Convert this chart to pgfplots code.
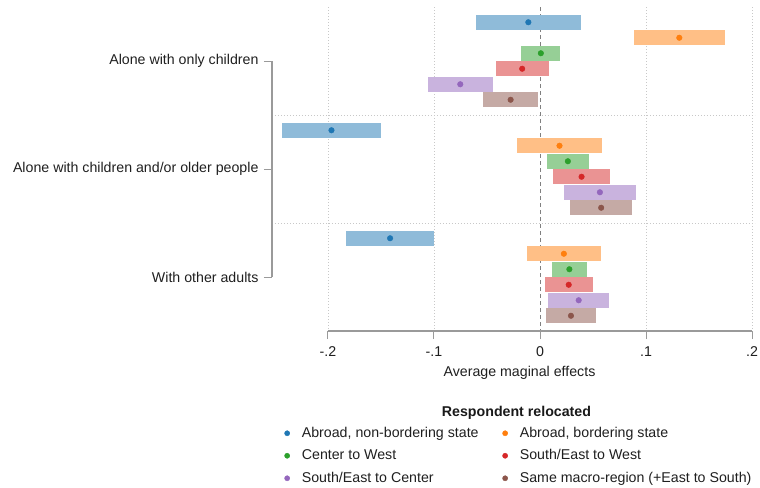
\documentclass[border=0pt]{standalone}
\usepackage{pgfplots}
\pgfplotsset{compat=1.18}
\usepackage{pgfplotstable}
\usepackage{fontspec}
\setmainfont{Liberation Sans}

\definecolor{cA}{HTML}{1F77B4}
\definecolor{cB}{HTML}{FF7F0E}
\definecolor{cC}{HTML}{2CA02C}
\definecolor{cD}{HTML}{D62728}
\definecolor{cE}{HTML}{9467BD}
\definecolor{cF}{HTML}{8C564B}
\definecolor{axgray}{HTML}{9A9A9A}
\definecolor{gridgray}{HTML}{C8C8C8}
\definecolor{zerogray}{HTML}{808080}

% y = group position (1,2,3) plus series offset, x = estimate, e = half-width of the interval
\pgfplotstableread{
y x e
0.6412 -0.0110 0.0494
1.6412 -0.1967 0.0470
2.6412 -0.1414 0.0417
}\tblA
\pgfplotstableread{
y x e
0.7847 0.1314 0.0429
1.7847 0.0184 0.0404
2.7847 0.0225 0.0351
}\tblB
\pgfplotstableread{
y x e
0.9282 0.0008 0.0184
1.9282 0.0263 0.0200
2.9282 0.0277 0.0164
}\tblC
\pgfplotstableread{
y x e
1.0718 -0.0168 0.0250
2.0718 0.0392 0.0269
3.0718 0.0271 0.0227
}\tblD
\pgfplotstableread{
y x e
1.2153 -0.0752 0.0305
2.2153 0.0565 0.0342
3.2153 0.0365 0.0290
}\tblE
\pgfplotstableread{
y x e
1.3588 -0.0277 0.0261
2.3588 0.0577 0.0291
3.3588 0.0292 0.0239
}\tblF

\pgfplotsset{
  ci/.style={only marks, mark=none, forget plot,
    error bars/.cd, x dir=both, x explicit, error mark=none,
    error bar style={line width=15bp, draw=#1!50!white}},
  pt/.style={only marks, mark=*, mark size=2.8bp, color=#1},
}

\begin{document}
\begin{tikzpicture}[font=\fontsize{14.25}{17}\selectfont]
\useasboundingbox (-272bp,-157bp) rectangle (488bp,331bp);
\begin{axis}[
  at={(0,0)}, anchor=south west,
  scale only axis, width=483bp, height=324bp,
  xmin=-0.2528, xmax=0.2028, ymin=0.5, ymax=3.5, y dir=reverse,
  clip=false,
  axis line style={draw=none},
  tick pos=left, tick align=outside,
  major tick length=8bp,
  every tick/.style={draw=axgray, line width=1bp},
  xtick={-0.2,-0.1,0,0.1,0.2}, xticklabels={-.2,-.1,0,.1,.2},
  ytick={1,2,3},
  yticklabels={Alone with only children, Alone with children and/or older people, With other adults},
  tick label style={text=black!88},
  yticklabel style={xshift=-2bp},
  xticklabel style={yshift=-4bp},
  xlabel={Average maginal effects},
  xlabel style={at={(axis description cs:0.5124,-0.1297)}, anchor=center, text=black!88},
  legend columns=2,
  legend cell align=left,
  legend image code/.code={
    \path[draw=none] (0bp,0bp) (19.7bp,0bp);
    \draw[#1, mark size=2.6bp] plot coordinates {(7bp,0bp)};
  },
  legend style={at={(axis description cs:0.0165,-0.288)}, anchor=north west,
    draw=none, fill=none, inner sep=0pt, row sep=5bp,
    nodes={inner sep=2bp, text height=10.5bp, text depth=3bp, text=black!88},
    /tikz/every even column/.append style={column sep=17.5bp}},
]
% grid
\foreach \g in {-0.2,-0.1,0.1,0.2}{
  \edef\tmp{\noexpand\draw[gridgray, line width=0.8bp, dash pattern=on 1bp off 2bp] (axis cs:\g,0.5) -- (axis cs:\g,3.5);}\tmp
}
\draw[gridgray, line width=0.8bp, dash pattern=on 1bp off 2bp] (axis cs:-0.2528,1.5) -- (axis cs:0.2028,1.5);
\draw[gridgray, line width=0.8bp, dash pattern=on 1bp off 2bp] (axis cs:-0.2528,2.5) -- (axis cs:0.2028,2.5);
\draw[zerogray, line width=1bp, dash pattern=on 4bp off 3bp] (axis cs:0,0.5) -- (axis cs:0,3.5);
% axis lines spanning the tick range
\draw[axgray, line width=1.2bp] (axis cs:-0.2,3.5) -- (axis cs:0.2,3.5);
\draw[axgray, line width=1.2bp] (axis cs:-0.2528,1) -- (axis cs:-0.2528,3);

\addplot[ci=cA] table[x=x, y=y, x error=e] {\tblA};
\addplot[pt=cA] table[x=x, y=y] {\tblA};
\addlegendentry{Abroad, non-bordering state}
\addplot[ci=cB] table[x=x, y=y, x error=e] {\tblB};
\addplot[pt=cB] table[x=x, y=y] {\tblB};
\addlegendentry{Abroad, bordering state}
\addplot[ci=cC] table[x=x, y=y, x error=e] {\tblC};
\addplot[pt=cC] table[x=x, y=y] {\tblC};
\addlegendentry{Center to West}
\addplot[ci=cD] table[x=x, y=y, x error=e] {\tblD};
\addplot[pt=cD] table[x=x, y=y] {\tblD};
\addlegendentry{South/East to West}
\addplot[ci=cE] table[x=x, y=y, x error=e] {\tblE};
\addplot[pt=cE] table[x=x, y=y] {\tblE};
\addlegendentry{South/East to Center}
\addplot[ci=cF] table[x=x, y=y, x error=e] {\tblF};
\addplot[pt=cF] table[x=x, y=y] {\tblF};
\addlegendentry{Same macro-region (+East to South)}

\node[font=\fontsize{14.25}{17}\selectfont\bfseries, text=black!90] at (axis description cs:0.5062,-0.2531) {Respondent relocated};
\end{axis}
\end{tikzpicture}
\end{document}
